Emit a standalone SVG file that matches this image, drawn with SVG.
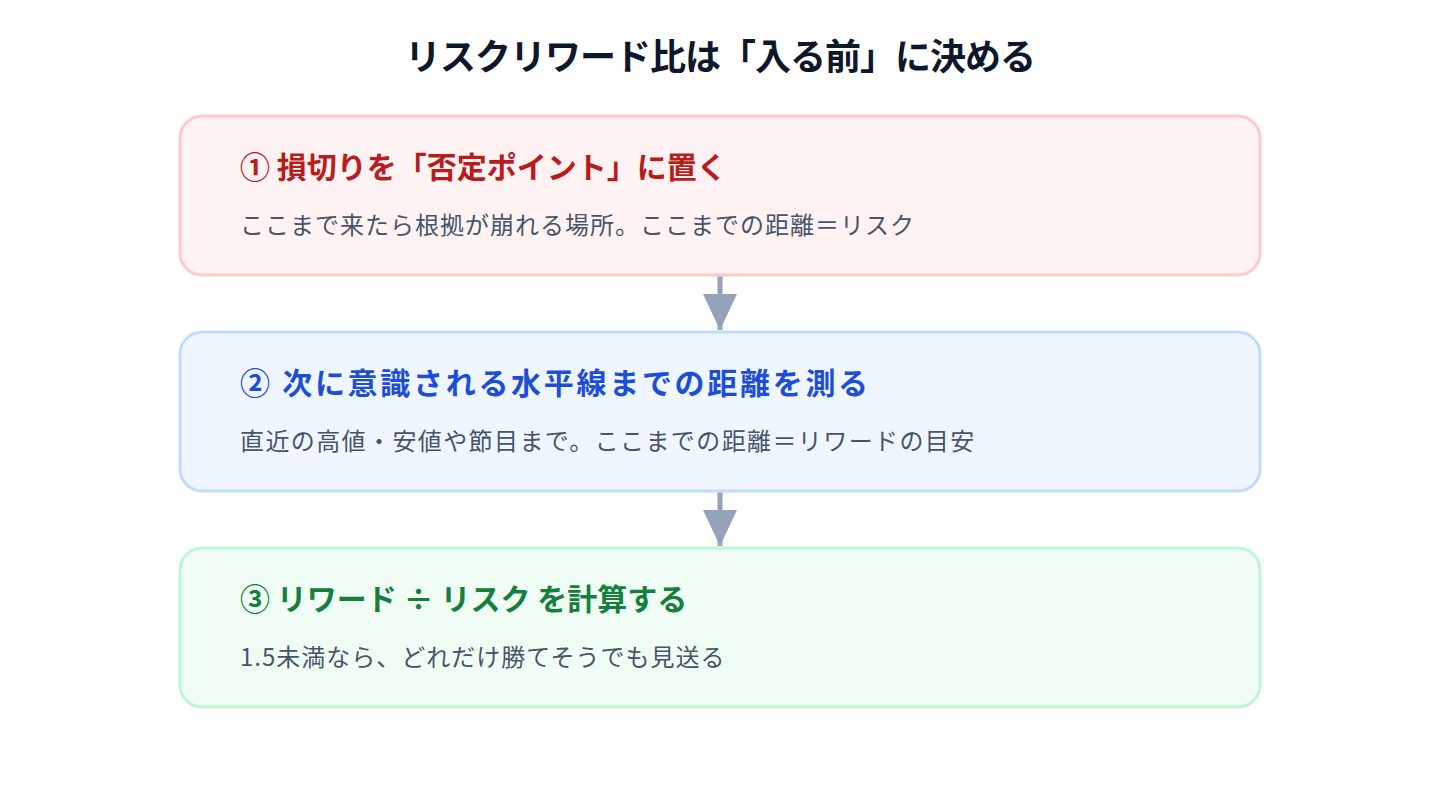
<svg xmlns="http://www.w3.org/2000/svg" width="1440" height="800" viewBox="0 0 1440 800">
<style>
text{font-family:"Noto Sans CJK JP","Noto Sans",sans-serif}
.t{font-size:36px;font-weight:700;fill:#0f172a;letter-spacing:-1px}
.h{font-size:30px;font-weight:700}
.s{font-size:24px;fill:#475569;letter-spacing:1px}
.box{stroke-width:3}
.conn{stroke:#94a3b8;stroke-width:5;fill:none}
</style>
<defs>
<marker id="ah" markerUnits="userSpaceOnUse" markerWidth="36" markerHeight="34" refX="36" refY="17" orient="auto">
<path d="M0,0 L36,17 L0,34 Z" fill="#94a3b8"/>
</marker>
</defs>
<rect width="1440" height="800" fill="#ffffff"/>
<text class="t" x="720" y="70" text-anchor="middle">リスクリワード比は「入る前」に決める</text>
<g id="connectors">
<line class="conn" x1="720" y1="276" x2="720" y2="330" marker-end="url(#ah)"/>
<line class="conn" x1="720" y1="492" x2="720" y2="546" marker-end="url(#ah)"/>
</g>
<g id="step1">
<rect class="box" x="180" y="116" width="1080" height="159" rx="22" fill="#fef2f2" stroke="#fecaca"/>
<text class="h" x="240" y="178" fill="#b91c1c">① 損切りを「否定ポイント」に置く</text>
<text class="s" x="240" y="234">ここまで来たら根拠が崩れる場所。ここまでの距離＝リスク</text>
</g>
<g id="step2">
<rect class="box" x="180" y="332" width="1080" height="159" rx="22" fill="#eff6ff" stroke="#bfdbfe"/>
<text class="h" x="240" y="394" fill="#1d4ed8" style="letter-spacing:2.7px">② 次に意識される水平線までの距離を測る</text>
<text class="s" x="240" y="450" style="letter-spacing:1.4px">直近の高値・安値や節目まで。ここまでの距離＝リワードの目安</text>
</g>
<g id="step3">
<rect class="box" x="180" y="548" width="1080" height="159" rx="22" fill="#f0fdf4" stroke="#bbf7d0"/>
<text class="h" x="240" y="610" fill="#15803d">③ リワード ÷ リスク を計算する</text>
<text class="s" x="240" y="666">1.5未満なら、どれだけ勝てそうでも見送る</text>
</g>
</svg>
